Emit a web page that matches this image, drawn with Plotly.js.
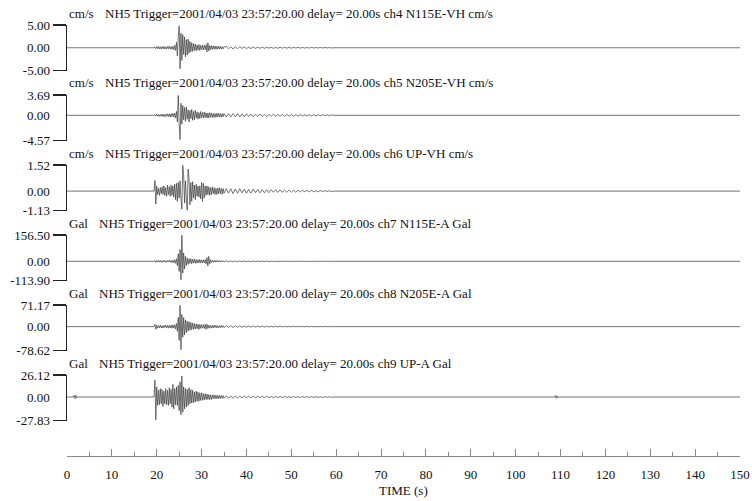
<!DOCTYPE html>
<html>
<head>
<meta charset="utf-8">
<script src="https://cdn.plot.ly/plotly-3.0.1.min.js"></script>
<style>html,body{margin:0;padding:0;background:#fff;}#chart{width:752px;height:501px;}</style>
</head>
<body>
<div id="chart"></div>
<script>
// ---------- data ----------
const header = "NH5 Trigger=2001/04/03 23:57:20.00 delay= 20.00s";
const units = ["cm/s", "cm/s", "cm/s", "Gal", "Gal", "Gal"];
const channels = ["ch4 N115E-VH cm/s", "ch5 N205E-VH cm/s", "ch6 UP-VH cm/s",
                  "ch7 N115E-A Gal", "ch8 N205E-A Gal", "ch9 UP-A Gal"];
const axisMax = [5.00, 3.69, 1.52, 156.50, 71.17, 26.12];
const axisMin = [-5.00, -4.57, -1.13, -113.90, -78.62, -27.83];
const timeTicks = [0,10,20,30,40,50,60,70,80,90,100,110,120,130,140,150];

// strong-motion part: samples every 0.2 s from 19.4 s
const activeStart = 19.4, activeStep = 0.2;
// coda part: samples every 0.5 s from 35.5 s
const codaStart = 35.5, codaStep = 0.5;

const ch4Active = [0,0.15,-0.2,0.25,-0.2,0.3,-0.25,0.2,-0.3,0.25,-0.2,0.3,-0.3,0.2,-0.25,0.3,-0.2,0.35,-0.3,0.25,-0.35,0.3,-0.4,0.5,-0.6,1.2,-1.8,2.6,4.8,-4.6,3.2,-2.8,2.9,-1.5,2.4,-2.0,1.8,-1.6,1.9,-1.2,1.4,-0.9,1.1,-0.8,0.9,-0.6,0.8,-0.7,0.6,-0.5,0.7,-0.6,0.5,-0.4,0.6,-0.5,0.5,-0.4,0.7,-0.9,1.1,-0.7,0.5,-0.4,0.45,-0.35,0.4,-0.3,0.4,-0.35,0.3,-0.3,0.35,-0.25,0.3,-0.3,0.25,-0.25,0.2];
const ch4Coda = [0.25,-0.2,0.22,-0.25,0.18,-0.2,0.22,-0.15,0.2,-0.18,0.15,-0.2,0.17,-0.14,0.16,-0.15,0.12,-0.14,0.15,-0.1,0.12,-0.13,0.1,-0.12,0.11,-0.09,0.1,-0.1,0.08,-0.1,0.09,-0.07,0.08,-0.09,0.07,-0.08,0.06,-0.07,0.08,-0.06,0.05,-0.06,0.07,-0.05,0.06,-0.05,0.04,-0.05,0];

const ch5Active = [0,0.12,-0.15,0.2,-0.15,0.18,-0.2,0.15,-0.18,0.22,-0.2,0.2,-0.25,0.2,-0.22,0.28,-0.2,0.25,-0.3,0.3,-0.25,0.35,-0.3,0.4,-0.5,0.7,-1.2,3.6,-1.5,-4.4,2.2,-1.6,1.8,-0.8,1.4,-1.1,1.5,-0.7,1.0,-1.2,0.9,-0.6,1.1,-0.9,0.7,-0.8,0.9,-0.5,0.6,-0.7,0.5,-0.6,0.7,-0.4,0.5,-0.5,0.6,-0.4,0.45,-0.5,0.4,-0.45,0.5,-0.35,0.4,-0.4,0.35,-0.4,0.3,-0.35,0.4,-0.3,0.35,-0.3,0.3,-0.35,0.3,-0.25,0.3];
const ch5Coda = [-0.3,0.3,-0.28,0.32,-0.25,0.3,-0.3,0.25,-0.28,0.27,-0.22,0.25,-0.25,0.22,-0.2,0.24,-0.22,0.2,-0.22,0.18,-0.2,0.2,-0.17,0.18,-0.18,0.15,-0.17,0.16,-0.14,0.16,-0.15,0.13,-0.14,0.14,-0.12,0.13,-0.12,0.11,-0.12,0.1,-0.11,0.1,-0.09,0.1,-0.08,0.09,-0.08,0.07,0];

const ch6Active = [0,0.62,-0.75,0.3,-0.2,0.15,-0.25,0.2,-0.15,0.25,-0.2,0.3,-0.25,0.2,-0.3,0.35,-0.2,0.25,-0.3,0.35,-0.25,0.3,-0.35,0.4,-0.5,0.45,-0.6,0.5,-0.4,0.6,-0.5,-1.05,1.5,0.9,-0.7,0.6,-0.5,-1.12,1.28,0.7,-0.8,0.5,-0.6,0.55,-0.4,0.35,-0.5,0.4,-0.3,0.3,-0.35,0.3,-0.45,0.5,-0.6,0.45,-0.4,0.3,-0.25,0.3,-0.2,0.25,-0.25,0.2,-0.2,0.25,-0.15,0.2,-0.2,0.15,-0.2,0.18,-0.15,0.2,-0.15,0.15,-0.18,0.15,-0.12];
const ch6Coda = [0.15,-0.12,0.14,-0.15,0.12,-0.13,0.14,-0.1,0.12,-0.12,0.1,-0.12,0.11,-0.09,0.1,-0.1,0.09,-0.1,0.08,-0.09,0.08,-0.07,0.08,-0.08,0.07,-0.07,0.06,-0.07,0.06,-0.06,0.05,-0.06,0.05,-0.05,0.05,-0.04,0.05,-0.04,0.04,-0.04,0.03,-0.04,0.03,-0.03,0.03,-0.03,0.02,-0.03,0];

const ch7Active = [0,5,-6,4,-5,6,-4,5,-6,4,-5,6,-5,4,-6,5,-4,6,-5,5,-7,6,-8,10,-12,15,-25,45,-60,70,-110,155,-70,50,-45,30,-25,20,-18,15,-12,16,-14,12,-10,14,-12,10,-11,9,-10,12,-9,8,-10,9,-8,10,-15,22,-28,30,-15,10,-7,6,-6,5,-5,6,-4,5,-4,4,-5,4,-3,4,-3];
const ch7Coda = [3,-3,2.5,-3,2,-2.5,3,-2,2.5,-2,2,-2.5,2,-1.8,2,-2,1.5,-1.8,1.6,-1.5,1.4,-1.5,1.2,-1.4,1.3,-1.1,1.2,-1.2,1,-1.1,1,-0.9,1,-1,0.8,-0.9,0.8,-0.8,0.7,-0.8,0.7,-0.6,0.7,-0.6,0.6,-0.6,0.5,-0.5,0];

const ch8Active = [0,8,-9,4,-5,3,-4,5,-4,3,-5,4,-3,5,-4,4,-5,4,-4,5,-5,6,-5,6,-8,10,-15,30,-45,70,-76,40,-35,30,-28,22,-20,18,-15,16,-12,14,-10,12,-9,10,-8,9,-7,8,-9,7,-6,7,-5,6,-6,8,-9,8,-6,5,-5,4,-5,4,-4,5,-3,4,-4,3,-4,3,-3,4,-3,3,-3];
const ch8Coda = [3,-2.5,2.8,-3,2.5,-2.2,2.5,-2.4,2,-2.2,2.2,-1.8,2,-2,1.8,-1.6,1.8,-1.5,1.6,-1.5,1.4,-1.4,1.3,-1.2,1.3,-1.1,1.2,-1.1,1,-1,1,-0.9,0.9,-0.9,0.8,-0.8,0.8,-0.7,0.8,-0.7,0.6,-0.7,0.6,-0.6,0.6,-0.5,0.5,-0.5,0];

const ch9Active = [0,20,-27,12,-10,8,-9,10,-8,9,-11,7,-8,10,-9,8,-10,11,-8,9,-12,15,-14,10,-9,12,-10,14,-16,18,-21,25,-18,12,-14,10,-12,9,-10,11,-8,9,-7,8,-7,6,-6,7,-5,6,-5,5,-4,5,-4,4,-3.5,4,-3,3.5,-3,3,-3,2.5,-3,2.5,-2,2.5,-2,2,-2,2,-2,1.8,-1.8,1.8,-1.5,1.6,-1.5];
const ch9Coda = [1.5,-1.4,1.3,-1.5,1.2,-1.3,1.2,-1.1,1.2,-1.0,1.1,-1.1,1.0,-0.9,1.0,-0.9,0.9,-0.8,0.9,-0.8,0.8,-0.8,0.7,-0.7,0.7,-0.6,0.7,-0.6,0.6,-0.6,0.5,-0.6,0.5,-0.5,0.5,-0.4,0.5,-0.4,0.4,-0.4,0.4,-0.4,0.3,-0.4,0.3,-0.3,0.3,-0.3,0];
// isolated spikes on ch9
const ch9EarlyTimes = [1.4, 1.6, 1.8, 2.0, 2.2, 2.4];
const ch9EarlyVals = [0, 2, -2, 2, -1, 0];
const ch9LateTimes = [108.6, 108.8, 109.0, 109.2, 109.4, 109.6];
const ch9LateVals = [0, 1.5, -1.5, 1.5, -1, 0];

const actives = [ch4Active, ch5Active, ch6Active, ch7Active, ch8Active, ch9Active];
const codas = [ch4Coda, ch5Coda, ch6Coda, ch7Coda, ch8Coda, ch9Coda];
const recordStart = 0, recordEnd = 150;

// ---------- build figure ----------
const W = 752, H = 501;
const FONT = "Liberation Serif";
const FS = 13;
const axisX = 67, axisRight = 740;
const panelTop0 = 25, panelGap = 70, panelH = 45.5;

const data = [];
const layout = {
  width: W, height: H,
  margin: {l: 0, r: 0, t: 0, b: 0},
  paper_bgcolor: "#fff", plot_bgcolor: "#fff",
  showlegend: false,
  font: {family: FONT, size: FS, color: "#111"},
  annotations: [],
  xaxis: {
    domain: [axisX / W, axisRight / W],
    range: [0, 150],
    anchor: "free", position: 1 - 456 / H,
    showline: true, linecolor: "#888", linewidth: 1,
    ticks: "inside", ticklen: 7, tickwidth: 1, tickcolor: "#888",
    tickvals: timeTicks, ticktext: timeTicks.map(String),
    ticklabelstandoff: 6,
    minor: {dtick: 5, ticks: "inside", ticklen: 4, tickwidth: 1, tickcolor: "#888"},
    showgrid: false, zeroline: false,
    tickfont: {family: FONT, size: FS, color: "#111"}
  }
};

for (let i = 0; i < 6; i++) {
  const xs = [recordStart], ys = [0];
  if (i === 5) { ch9EarlyTimes.forEach((t, k) => { xs.push(t); ys.push(ch9EarlyVals[k]); }); }
  actives[i].forEach((v, k) => { xs.push(activeStart + activeStep * k); ys.push(v); });
  codas[i].forEach((v, k) => { xs.push(codaStart + codaStep * k); ys.push(v); });
  if (i === 5) { ch9LateTimes.forEach((t, k) => { xs.push(t); ys.push(ch9LateVals[k]); }); }
  xs.push(recordEnd); ys.push(0);

  const yName = i === 0 ? "y" : "y" + (i + 1);
  const axName = i === 0 ? "yaxis" : "yaxis" + (i + 1);
  data.push({
    x: xs, y: ys, type: "scatter", mode: "lines",
    xaxis: "x", yaxis: yName,
    line: {color: "#3a3a3a", width: 0.7, simplify: false},
    hoverinfo: "skip"
  });

  const top = panelTop0 + panelGap * i;
  const bottom = top + panelH;
  layout[axName] = {
    domain: [1 - bottom / H, 1 - top / H],
    range: [axisMin[i], axisMax[i]],
    anchor: "x",
    showline: true, linecolor: "#222", linewidth: 1.5,
    ticks: "outside", ticklen: 13, tickwidth: 1.5, tickcolor: "#222",
    tickvals: [axisMax[i], axisMin[i]],
    ticktext: [axisMax[i].toFixed(2), axisMin[i].toFixed(2)],
    showgrid: false, zeroline: false,
    tickfont: {family: FONT, size: FS, color: "#111"}
  };
  // zero label (no tick there in the original)
  layout.annotations.push({
    xref: "paper", yref: yName, x: 52 / W, y: 0,
    xanchor: "right", yanchor: "middle", showarrow: false,
    text: (0).toFixed(2), font: {family: FONT, size: FS, color: "#111"}
  });
  // unit + header line
  const ty = 1 - (top - 12) / H;
  layout.annotations.push({
    xref: "paper", yref: "paper", x: 67 / W, y: ty,
    xanchor: "left", yanchor: "middle", showarrow: false,
    text: units[i], font: {family: FONT, size: FS, color: "#111"}
  });
  layout.annotations.push({
    xref: "paper", yref: "paper", x: (units[i] === "Gal" ? 97 : 103) / W, y: ty,
    xanchor: "left", yanchor: "middle", showarrow: false,
    text: header + " " + channels[i], font: {family: FONT, size: FS, color: "#111"}
  });
}

layout.annotations.push({
  xref: "paper", yref: "paper", x: 403.5 / W, y: 1 - 490 / H,
  xanchor: "center", yanchor: "middle", showarrow: false,
  text: "TIME (s)", font: {family: FONT, size: FS, color: "#111"}
});

Plotly.newPlot("chart", data, layout, {staticPlot: true, displayModeBar: false});
</script>
</body>
</html>
